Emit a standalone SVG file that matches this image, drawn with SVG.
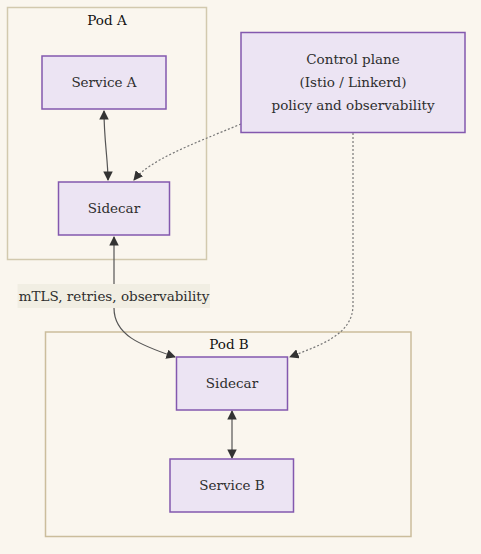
<svg xmlns="http://www.w3.org/2000/svg" width="481" height="554" viewBox="0 0 481 554">
<style>
.bg{fill:#faf6ee}
.cluster{fill:#faf6ee;stroke:#d2c9ae;stroke-width:1.5}
#podB .cluster{stroke:#cbbd9c}
.node{fill:#ece4f3;stroke:#8358ae;stroke-width:1.5}
text{font-family:"DejaVu Serif","Liberation Serif",serif;font-size:13.5px;fill:#2e2e2e;text-anchor:middle}
.ctitle{fill:#111}
.edge{fill:none;stroke:#555;stroke-width:1.2}
.dot{fill:none;stroke:#777;stroke-width:1.2;stroke-dasharray:2 2}
.lbl{fill:#f1eee3}
</style>
<defs>
<marker id="ah" viewBox="0 0 10 10" refX="9" refY="5" markerWidth="9.5" markerHeight="9.5" orient="auto-start-reverse" markerUnits="userSpaceOnUse">
<path d="M0,0 L10,5 L0,10 z" fill="#333"/>
</marker>
</defs>
<rect class="bg" x="0" y="0" width="481" height="554"/>
<g id="podA">
<rect class="cluster" x="7.5" y="7.5" width="199" height="252"/>
<text class="ctitle" x="107" y="25">Pod A</text>
</g>
<g id="podB">
<rect class="cluster" x="45.5" y="332" width="365.5" height="204.5"/>
<text class="ctitle" x="229" y="349">Pod B</text>
</g>
<g id="connectors">
<path class="edge" d="M104,111 C104,140 108,160 108,180" marker-start="url(#ah)" marker-end="url(#ah)"/>
<path class="dot" d="M241,124 C190,145 150,160 134,180" marker-end="url(#ah)"/>
<path class="edge" d="M114,308 C114,335 140,345 175,357" marker-end="url(#ah)"/>
<path class="edge" d="M114,284 L114,237" marker-end="url(#ah)"/>
<path class="dot" d="M353,133 L353,305 C353,335 320,345 290,357" marker-end="url(#ah)"/>
<path class="edge" d="M232,411 L232,458" marker-start="url(#ah)" marker-end="url(#ah)"/>
</g>
<g id="edgeLabel">
<rect class="lbl" x="17.5" y="284" width="192.5" height="24"/>
<text x="114" y="300.5">mTLS, retries, observability</text>
</g>
<g id="serviceA">
<rect class="node" x="42" y="56" width="124" height="53"/>
<text x="104" y="87">Service A</text>
</g>
<g id="sidecarA">
<rect class="node" x="58.5" y="182" width="111" height="53"/>
<text x="114" y="213">Sidecar</text>
</g>
<g id="controlPlane">
<rect class="node" x="241" y="32.5" width="224" height="100"/>
<text x="353" y="64">Control plane</text>
<text x="353" y="87">(Istio / Linkerd)</text>
<text x="353" y="110">policy and observability</text>
</g>
<g id="sidecarB">
<rect class="node" x="176.5" y="357" width="111" height="53"/>
<text x="232" y="388">Sidecar</text>
</g>
<g id="serviceB">
<rect class="node" x="170" y="459" width="123.5" height="53"/>
<text x="232" y="490">Service B</text>
</g>
</svg>
